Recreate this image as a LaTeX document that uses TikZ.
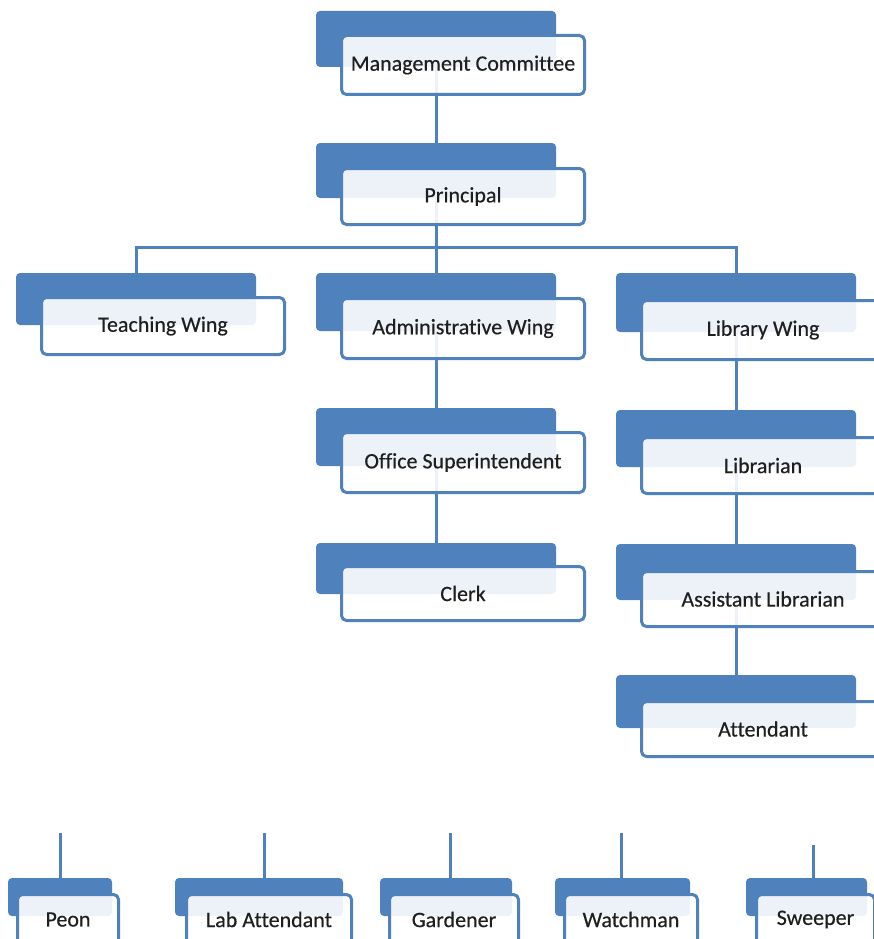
\documentclass[tikz,border=0pt]{standalone}
\usepackage{fontspec}
\setmainfont[FakeBold=0.4,Ligatures=CommonOff]{Carlito}
\usetikzlibrary{backgrounds}
\definecolor{boxblue}{HTML}{4F81BD}
\newcommand\bigbox[7]{%
  \node[backbox, minimum width=240pt, minimum height={#4-#3}] (#1b) at ({#2+120},{(#3+#4)/2}) {};
  \node[frontbox, minimum width=243pt, minimum height={#6-#5-3}] (#1) at ({#2+147},{(#5+#6)/2}) {#7};
}
\newcommand\smallbox[7]{%
  \node[backbox, minimum width={#3-#2}, minimum height=38pt] (#1b) at ({(#2+#3)/2},897) {};
  \node[frontbox, minimum width={#5-#4-3}, minimum height=50pt] (#1) at ({(#4+#5)/2},919.5) {#7};
  \coordinate (#1t) at (#6,833);
}
\begin{document}
\begin{tikzpicture}[x=1pt,y=-1pt,
  backbox/.style={fill=boxblue, rounded corners=4pt, inner sep=0pt},
  frontbox/.style={draw=boxblue, line width=3pt, fill=white, fill opacity=0.9,
    text opacity=1, rounded corners=5pt, inner sep=0pt,
    font=\fontsize{22}{26}\selectfont, text=black!88},
  conn/.style={draw=boxblue, line width=3pt}]
\useasboundingbox (0,0) rectangle (874,939);

\bigbox{mc}{316}{11}{67}{34}{96}{Management Committee}
\bigbox{pr}{316}{143}{198}{167}{226}{Principal}
\bigbox{tw}{16}{273}{325}{296}{356}{Teaching Wing}
\bigbox{aw}{316}{273}{331}{297}{360}{Administrative Wing}
\bigbox{lw}{616}{273}{332}{299}{361}{Library Wing}
\bigbox{os}{316}{408}{466}{431}{494}{Office Superintendent}
\bigbox{cl}{316}{543}{594}{565}{622}{Clerk}
\bigbox{lb}{616}{410}{467}{436}{495}{Librarian}
\bigbox{al}{616}{544}{600}{570}{628}{Assistant Librarian}
\bigbox{at}{616}{675}{728}{700}{758}{Attendant}

\smallbox{pe}{8}{112}{16}{120}{60}{Peon}
\smallbox{la}{175}{343}{185}{353}{264}{Lab Attendant}
\smallbox{ga}{380}{512}{388}{520}{450}{Gardener}
\smallbox{wa}{555}{690}{563}{699}{621}{Watchman}
\smallbox{sw}{746}{867}{755}{876}{813}{Sweeper}
\coordinate (swt) at (813,845);
\coordinate (bus) at (436,247);

\begin{pgfonlayer}{background}
  \draw[conn] (mcb.center) -- (prb.center);
  \draw[conn] (prb.center) -- (awb.center);
  \draw[conn] (twb.center) -- (twb.center |- bus) -- (lwb.center |- bus) -- (lwb.center);
  \draw[conn] (awb.center) -- (osb.center);
  \draw[conn] (osb.center) -- (clb.center);
  \draw[conn] (lwb.center) -- (lbb.center);
  \draw[conn] (lbb.center) -- (alb.center);
  \draw[conn] (alb.center) -- (atb.center);
  \draw[conn] (pet) -- (pet |- peb.north);
  \draw[conn] (lat) -- (lat |- lab.north);
  \draw[conn] (gat) -- (gat |- gab.north);
  \draw[conn] (wat) -- (wat |- wab.north);
  \draw[conn] (swt) -- (swt |- swb.north);
\end{pgfonlayer}
\end{tikzpicture}
\end{document}
